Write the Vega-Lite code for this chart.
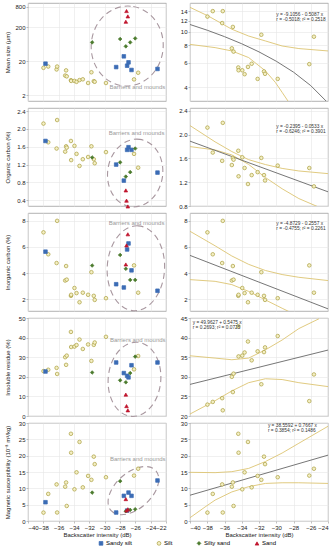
{
"$schema":"https://vega.github.io/schema/vega-lite/v6.json",
"padding":{"left":3,"top":2,"right":1,"bottom":2},
"bounds":"flush",
"columns":2,
"spacing":{"row":7,"column":24},
"datasets":{
"samples":[
{"type":"Silt","bs":-37.98,"ms":12.8,"oc":2.12,"ic":7.12,"ir":22.9,"mag":2.57},
{"type":"Silt","bs":-37.36,"ms":14.0,"oc":1.70,"ic":5.44,"ir":23.6,"mag":8.3},
{"type":"Silt","bs":-36.27,"ms":11.5,"oc":1.56,"ic":4.77,"ir":24.55,"mag":11.2},
{"type":"Silt","bs":-36.2,"ms":14.0,"oc":2.2,"ic":8.0,"ir":21.45,"mag":2.6},
{"type":"Silt","bs":-35.15,"ms":7.6,"oc":1.49,"ic":3.43,"ir":30.0,"mag":10.5},
{"type":"Silt","bs":-35.03,"ms":10.8,"oc":1.61,"ic":4.54,"ir":26.1,"mag":11.8},
{"type":"Silt","bs":-34.95,"ms":7.2,"oc":1.58,"ic":3.5,"ir":30.8,"mag":4.6},
{"type":"Silt","bs":-34.4,"ms":5.55,"oc":1.73,"ic":2.26,"ir":42.9,"mag":26.7},
{"type":"Silt","bs":-34.37,"ms":5.3,"oc":1.30,"ic":2.34,"ir":35.2,"mag":20.9},
{"type":"Silt","bs":-33.94,"ms":5.3,"oc":1.62,"ic":2.86,"ir":35.4,"mag":9.7},
{"type":"Silt","bs":-33.67,"ms":4.97,"oc":1.44,"ic":2.47,"ir":36.2,"mag":14.9},
{"type":"Silt","bs":-33.28,"ms":5.6,"oc":1.17,"ic":1.77,"ir":39.0,"mag":24.2},
{"type":"Silt","bs":-32.85,"ms":5.9,"oc":1.32,"ic":2.5,"ir":34.2,"mag":10.3},
{"type":"Silt","bs":-32.16,"ms":4.6,"oc":1.37,"ic":2.34,"ir":36.5,"mag":13.8},
{"type":"Silt","bs":-31.73,"ms":9.5,"oc":1.61,"ic":4.07,"ir":28.1,"mag":12.6},
{"type":"Silt","bs":-31.42,"ms":5.2,"oc":1.32,"ic":2.26,"ir":36.3,"mag":19.7},
{"type":"Silt","bs":-31.3,"ms":5.0,"oc":1.23,"ic":1.95,"ir":37.5,"mag":17.4},
{"type":"Silt","bs":-29.83,"ms":4.6,"oc":1.48,"ic":2.08,"ir":40.4,"mag":13.4},
{"type":"Silt","bs":-26.17,"ms":5.86,"oc":1.44,"ic":4.59,"ir":23.8,"mag":13.9},
{"type":"Silt","bs":-25.63,"ms":9.2,"oc":1.13,"ic":2.5,"ir":30.6,"mag":16.0},
{"type":"Sandy silt","bs":-37.72,"ms":17.0,"oc":1.73,"ic":5.64,"ir":22.7,"mag":5.75},
{"type":"Sandy silt","bs":-28.5,"ms":13.5,"oc":1.20,"ic":3.15,"ir":27.3,"mag":2.6},
{"type":"Sandy silt","bs":-27.5,"ms":27.9,"oc":0.84,"ic":2.90,"ir":21.9,"mag":7.7},
{"type":"Sandy silt","bs":-27.07,"ms":14.8,"oc":1.53,"ic":5.81,"ir":20.5,"mag":3.2},
{"type":"Sandy silt","bs":-26.89,"ms":18.6,"oc":1.59,"ic":6.27,"ir":19.7,"mag":8.7},
{"type":"Sandy silt","bs":-26.5,"ms":11.1,"oc":1.53,"ic":4.21,"ir":25.9,"mag":7.7},
{"type":"Sandy silt","bs":-23.11,"ms":11.9,"oc":1.02,"ic":2.65,"ir":27.3,"mag":12.4},
{"type":"Silty sand","bs":-31.63,"ms":71.8,"oc":1.36,"ic":4.58,"ir":22.2,"mag":8.7},
{"type":"Silty sand","bs":-27.98,"ms":90,"oc":1.25,"ic":5.39,"ir":18.2,"mag":12.2},
{"type":"Silty sand","bs":-27.24,"ms":54.8,"oc":0.93,"ic":4.33,"ir":17.2,"mag":3.0},
{"type":"Silty sand","bs":-26.67,"ms":71.8,"oc":1.03,"ic":3.48,"ir":21.9,"mag":3.4},
{"type":"Silty sand","bs":-26.02,"ms":94,"oc":1.56,"ic":3.48,"ir":30.3,"mag":3.6},
{"type":"Sand","bs":-27.24,"ms":290,"oc":0.62,"ic":4.66,"ir":10.9,"mag":6.7},
{"type":"Sand","bs":-27.15,"ms":597,"oc":0.39,"ic":6.12,"ir":5.05,"mag":3.2},
{"type":"Sand","bs":-26.98,"ms":416,"oc":0.26,"ic":6.97,"ir":2.9,"mag":3.6}
],
"annot":[
{"kind":"ellipse","bs":-27.06,"ms":56},
{"kind":"ellipse","bs":-26.02,"oc":1.01},
{"kind":"ellipse","bs":-25.93,"ic":4.37},
{"kind":"ellipse","bs":-26.11,"ir":18.7},
{"kind":"ellipse","bs":-26.25,"mag":9.3},
{"kind":"note","bs":-22.1,"ms":3.5,"label":"Barriers and mounds"},
{"kind":"note","bs":-22.2,"oc":1.92,"label":"Barriers and mounds"},
{"kind":"note","bs":-22.2,"ic":7.86,"label":"Barriers and mounds"},
{"kind":"note","bs":-22.05,"ir":38.8,"label":"Barriers and mounds"},
{"kind":"note","bs":-22.05,"mag":18.9,"label":"Barriers and mounds"},
{"kind":"eq","bs":-30.0,"ms":13.9,"label":"y = -9.1056 - 0.5087 x\nr = -0.5018; r² = 0.2518"},
{"kind":"eq","bs":-30.0,"oc":2.18,"label":"y = -0.2395 - 0.0533 x\nr = -0.6246; r² = 0.3901"},
{"kind":"eq","bs":-30.0,"ic":7.95,"label":"y = -4.8729 - 0.2557 x\nr = -0.4755; r² = 0.2261"},
{"kind":"eq","bs":-39.69,"ir":44.6,"label":"y = 49.9627 + 0.5475 x\nr = 0.2693; r² = 0.0725"},
{"kind":"eq","bs":-30.97,"mag":29.85,"label":"y = 38.5592 + 0.7667 x\nr = 0.3854; r² = 0.1486"}
],
"curves":[
{"curve":"fit","bs":-40,"ms":11.24},{"curve":"fit","bs":-38,"ms":10.23},{"curve":"fit","bs":-36,"ms":9.21},{"curve":"fit","bs":-34,"ms":8.19},{"curve":"fit","bs":-32,"ms":7.17},{"curve":"fit","bs":-30,"ms":6.15},{"curve":"fit","bs":-28,"ms":5.14},{"curve":"fit","bs":-26,"ms":4.12},{"curve":"fit","bs":-24,"ms":3.10},
{"curve":"upper","bs":-40,"ms":14.9},{"curve":"upper","bs":-37.86,"ms":12.9},{"curve":"upper","bs":-35.15,"ms":10.4},{"curve":"upper","bs":-33.2,"ms":9.3},{"curve":"upper","bs":-31.26,"ms":8.58},{"curve":"upper","bs":-29.32,"ms":7.9},{"curve":"upper","bs":-27.38,"ms":7.57},{"curve":"upper","bs":-24,"ms":7.28},
{"curve":"lower","bs":-40,"ms":8.11},{"curve":"lower","bs":-37.09,"ms":7.69},{"curve":"lower","bs":-35.15,"ms":7.28},{"curve":"lower","bs":-33.2,"ms":6.53},{"curve":"lower","bs":-31.26,"ms":5.25},{"curve":"lower","bs":-30.1,"ms":4.34},{"curve":"lower","bs":-29.32,"ms":3.69},{"curve":"lower","bs":-28.54,"ms":3.13},
{"curve":"fit","bs":-40,"oc":1.892},{"curve":"fit","bs":-24,"oc":1.039},
{"curve":"upper","bs":-40,"oc":2.154},{"curve":"upper","bs":-37.09,"oc":1.88},{"curve":"upper","bs":-35.15,"oc":1.717},{"curve":"upper","bs":-33.2,"oc":1.58},{"curve":"upper","bs":-31.26,"oc":1.498},{"curve":"upper","bs":-29.32,"oc":1.433},{"curve":"upper","bs":-27.38,"oc":1.39},{"curve":"upper","bs":-24,"oc":1.345},
{"curve":"lower","bs":-40,"oc":1.80},{"curve":"lower","bs":-37.09,"oc":1.744},{"curve":"lower","bs":-35.15,"oc":1.66},{"curve":"lower","bs":-33.2,"oc":1.50},{"curve":"lower","bs":-31.26,"oc":1.28},{"curve":"lower","bs":-29.32,"oc":1.09},{"curve":"lower","bs":-27.38,"oc":0.925},{"curve":"lower","bs":-25.0,"oc":0.777},
{"curve":"fit","bs":-40,"ic":5.355},{"curve":"fit","bs":-24,"ic":1.264},
{"curve":"upper","bs":-40,"ic":7.2},{"curve":"upper","bs":-37.09,"ic":6.09},{"curve":"upper","bs":-35.15,"ic":5.31},{"curve":"upper","bs":-33.2,"ic":4.67},{"curve":"upper","bs":-31.26,"ic":4.2},{"curve":"upper","bs":-29.32,"ic":3.89},{"curve":"upper","bs":-27.38,"ic":3.68},{"curve":"upper","bs":-24,"ic":3.43},
{"curve":"lower","bs":-40,"ic":3.5},{"curve":"lower","bs":-37.09,"ic":3.37},{"curve":"lower","bs":-35.15,"ic":3.12},{"curve":"lower","bs":-33.2,"ic":2.6},{"curve":"lower","bs":-31.26,"ic":1.95},{"curve":"lower","bs":-29.32,"ic":1.31},{"curve":"lower","bs":-28.35,"ic":1.0},
{"curve":"fit","bs":-40,"ir":28.06},{"curve":"fit","bs":-24,"ir":36.82},
{"curve":"upper","bs":-40,"ir":35.36},{"curve":"upper","bs":-37.09,"ir":34.77},{"curve":"upper","bs":-35.15,"ir":34.35},{"curve":"upper","bs":-33.2,"ir":34.77},{"curve":"upper","bs":-31.26,"ir":36.87},{"curve":"upper","bs":-29.32,"ir":39.38},{"curve":"upper","bs":-27.38,"ir":42.3},{"curve":"upper","bs":-25.05,"ir":44.8},
{"curve":"lower","bs":-40,"ir":20.5},{"curve":"lower","bs":-37.09,"ir":23.9},{"curve":"lower","bs":-35.15,"ir":26.4},{"curve":"lower","bs":-33.2,"ir":28.5},{"curve":"lower","bs":-31.26,"ir":29.5},{"curve":"lower","bs":-29.32,"ir":29.3},{"curve":"lower","bs":-27.38,"ir":28.5},{"curve":"lower","bs":-24,"ir":27.5},
{"curve":"fit","bs":-40,"mag":7.89},{"curve":"fit","bs":-24,"mag":20.16},
{"curve":"upper","bs":-40,"mag":14.9},{"curve":"upper","bs":-37.09,"mag":14.8},{"curve":"upper","bs":-35.15,"mag":15.1},{"curve":"upper","bs":-33.2,"mag":16.1},{"curve":"upper","bs":-31.26,"mag":18.2},{"curve":"upper","bs":-29.32,"mag":20.8},{"curve":"upper","bs":-27.38,"mag":23.8},{"curve":"upper","bs":-24,"mag":29.0},
{"curve":"lower","bs":-40,"mag":1.0},{"curve":"lower","bs":-38.25,"mag":4.3},{"curve":"lower","bs":-37.09,"mag":6.4},{"curve":"lower","bs":-35.15,"mag":8.9},{"curve":"lower","bs":-33.2,"mag":10.5},{"curve":"lower","bs":-31.26,"mag":11.5},{"curve":"lower","bs":-29.32,"mag":11.7},{"curve":"lower","bs":-27.38,"mag":11.7},{"curve":"lower","bs":-24,"mag":11.5}
]
},
"concat":[
{"width":138,"height":98,
 "encoding":{
  "x":{"field":"bs","type":"quantitative","scale":{"domain":[-40,-22],"nice":false,"zero":false},"axis":{"labels":false,"ticks":false,"title":null,"values":[-40,-38,-36,-34,-32,-30,-28,-26,-24,-22]}},
  "y":{"field":"ms","type":"quantitative","scale":{"type":"log","domain":[1.36,1030],"nice":false},"axis":{"title":"Mean size (μm)","values":[2,20,200,800],"format":"d","titleX":-21,"titleY":49,"titleBaseline":"middle"}}},
 "layer":[
  {"data":{"name":"annot"},"transform":[{"filter":"datum.kind=='ellipse' && isValid(datum.ms)"}],"mark":{"type":"point","shape":"M -1 0 A 1 0.9 0 1 0 1 0 A 1 0.9 0 1 0 -1 0 Z","size":6400,"angle":95,"filled":false,"stroke":"#a8979f","strokeWidth":1.1,"strokeDash":[6,4],"opacity":1}},
  {"data":{"name":"annot"},"transform":[{"filter":"datum.kind=='note' && isValid(datum.ms)"}],"mark":{"type":"text","align":"right","baseline":"middle","fontSize":6,"color":"#9a9a9a"},"encoding":{"text":{"field":"label"}}},
  {"data":{"name":"samples"},"mark":{"type":"point","filled":true,"size":13,"strokeWidth":0.7,"opacity":1},
   "encoding":{
    "shape":{"field":"type","type":"nominal","title":null,"scale":{"domain":["Sandy silt","Silt","Silty sand","Sand"],"range":["square","circle","diamond","triangle-up"]}},
    "fill":{"field":"type","type":"nominal","title":null,"scale":{"domain":["Sandy silt","Silt","Silty sand","Sand"],"range":["#3b6cb5","#f4efc4","#4a7a2c","#c0142c"]}},
    "stroke":{"field":"type","type":"nominal","title":null,"scale":{"domain":["Sandy silt","Silt","Silty sand","Sand"],"range":["#3b6cb5","#a99d3e","#4a7a2c","#c0142c"]}}}}
 ]},
{"width":138,"height":98,
 "encoding":{
  "x":{"field":"bs","type":"quantitative","scale":{"domain":[-40,-24],"nice":false,"zero":false},"axis":{"labels":false,"ticks":false,"title":null,"values":[-40,-38,-36,-34,-32,-30,-28,-26,-24]}},
  "y":{"field":"ms","type":"quantitative","scale":{"type":"log","domain":[3.2,16],"nice":false},"axis":{"title":null,"values":[4,6,8,10,12,14],"format":"d"}}},
 "layer":[
  {"data":{"name":"curves"},"transform":[{"filter":"datum.curve!='fit' && isValid(datum.ms)"}],"mark":{"type":"line","stroke":"#dcc472","strokeWidth":0.9,"clip":true},"encoding":{"detail":{"field":"curve"}}},
  {"data":{"name":"curves"},"transform":[{"filter":"datum.curve=='fit' && isValid(datum.ms)"}],"mark":{"type":"line","stroke":"#666666","strokeWidth":0.9,"clip":true},"encoding":{}},
  {"data":{"name":"samples"},"transform":[{"filter":"datum.type=='Silt'"}],"mark":{"type":"point","shape":"circle","filled":true,"fill":"#f4efc4","stroke":"#a99d3e","strokeWidth":0.7,"size":13,"opacity":1}},
  {"data":{"name":"annot"},"transform":[{"filter":"datum.kind=='eq' && isValid(datum.ms)"}],"mark":{"type":"text","align":"left","baseline":"top","fontSize":4.8,"lineBreak":"\n","lineHeight":5,"color":"#333"},"encoding":{"text":{"field":"label"}}}
 ]},
{"width":138,"height":98,
 "encoding":{
  "x":{"field":"bs","type":"quantitative","scale":{"domain":[-40,-22],"nice":false,"zero":false},"axis":{"labels":false,"ticks":false,"title":null,"values":[-40,-38,-36,-34,-32,-30,-28,-26,-24,-22]}},
  "y":{"field":"oc","type":"quantitative","scale":{"domain":[0.27,2.47],"nice":false,"zero":false},"axis":{"title":"Organic carbon (%)","values":[0.4,0.8,1.2,1.6,2.0,2.4],"format":".1f","titleX":-21,"titleY":49,"titleBaseline":"middle"}}},
 "layer":[
  {"data":{"name":"annot"},"transform":[{"filter":"datum.kind=='ellipse' && isValid(datum.oc)"}],"mark":{"type":"point","shape":"M -1 0 A 1 0.81 0 1 0 1 0 A 1 0.81 0 1 0 -1 0 Z","size":4624,"angle":98,"filled":false,"stroke":"#a8979f","strokeWidth":1.1,"strokeDash":[6,4],"opacity":1}},
  {"data":{"name":"annot"},"transform":[{"filter":"datum.kind=='note' && isValid(datum.oc)"}],"mark":{"type":"text","align":"right","baseline":"middle","fontSize":6,"color":"#9a9a9a"},"encoding":{"text":{"field":"label"}}},
  {"data":{"name":"samples"},"mark":{"type":"point","filled":true,"size":13,"strokeWidth":0.7,"opacity":1},
   "encoding":{
    "shape":{"field":"type","type":"nominal","title":null,"scale":{"domain":["Sandy silt","Silt","Silty sand","Sand"],"range":["square","circle","diamond","triangle-up"]}},
    "fill":{"field":"type","type":"nominal","title":null,"scale":{"domain":["Sandy silt","Silt","Silty sand","Sand"],"range":["#3b6cb5","#f4efc4","#4a7a2c","#c0142c"]}},
    "stroke":{"field":"type","type":"nominal","title":null,"scale":{"domain":["Sandy silt","Silt","Silty sand","Sand"],"range":["#3b6cb5","#a99d3e","#4a7a2c","#c0142c"]}}}}
 ]},
{"width":138,"height":98,
 "encoding":{
  "x":{"field":"bs","type":"quantitative","scale":{"domain":[-40,-24],"nice":false,"zero":false},"axis":{"labels":false,"ticks":false,"title":null,"values":[-40,-38,-36,-34,-32,-30,-28,-26,-24]}},
  "y":{"field":"oc","type":"quantitative","scale":{"domain":[0.8,2.45],"nice":false,"zero":false},"axis":{"title":null,"values":[0.8,1.2,1.6,2.0,2.4],"format":".1f"}}},
 "layer":[
  {"data":{"name":"curves"},"transform":[{"filter":"datum.curve!='fit' && isValid(datum.oc)"}],"mark":{"type":"line","stroke":"#dcc472","strokeWidth":0.9,"clip":true},"encoding":{"detail":{"field":"curve"}}},
  {"data":{"name":"curves"},"transform":[{"filter":"datum.curve=='fit' && isValid(datum.oc)"}],"mark":{"type":"line","stroke":"#666666","strokeWidth":0.9,"clip":true},"encoding":{}},
  {"data":{"name":"samples"},"transform":[{"filter":"datum.type=='Silt'"}],"mark":{"type":"point","shape":"circle","filled":true,"fill":"#f4efc4","stroke":"#a99d3e","strokeWidth":0.7,"size":13,"opacity":1}},
  {"data":{"name":"annot"},"transform":[{"filter":"datum.kind=='eq' && isValid(datum.oc)"}],"mark":{"type":"text","align":"left","baseline":"top","fontSize":4.8,"lineBreak":"\n","lineHeight":5,"color":"#333"},"encoding":{"text":{"field":"label"}}}
 ]},
{"width":138,"height":98,
 "encoding":{
  "x":{"field":"bs","type":"quantitative","scale":{"domain":[-40,-22],"nice":false,"zero":false},"axis":{"labels":false,"ticks":false,"title":null,"values":[-40,-38,-36,-34,-32,-30,-28,-26,-24,-22]}},
  "y":{"field":"ic","type":"quantitative","scale":{"domain":[1.1,8.6],"nice":false,"zero":false},"axis":{"title":"Inorganic carbon (%)","values":[2,4,6,8],"format":"d","titleX":-21,"titleY":49,"titleBaseline":"middle"}}},
 "layer":[
  {"data":{"name":"annot"},"transform":[{"filter":"datum.kind=='ellipse' && isValid(datum.ic)"}],"mark":{"type":"point","shape":"M -1 0 A 1 0.675 0 1 0 1 0 A 1 0.675 0 1 0 -1 0 Z","size":7225,"angle":93,"filled":false,"stroke":"#a8979f","strokeWidth":1.1,"strokeDash":[6,4],"opacity":1}},
  {"data":{"name":"annot"},"transform":[{"filter":"datum.kind=='note' && isValid(datum.ic)"}],"mark":{"type":"text","align":"right","baseline":"middle","fontSize":6,"color":"#9a9a9a"},"encoding":{"text":{"field":"label"}}},
  {"data":{"name":"samples"},"mark":{"type":"point","filled":true,"size":13,"strokeWidth":0.7,"opacity":1},
   "encoding":{
    "shape":{"field":"type","type":"nominal","title":null,"scale":{"domain":["Sandy silt","Silt","Silty sand","Sand"],"range":["square","circle","diamond","triangle-up"]}},
    "fill":{"field":"type","type":"nominal","title":null,"scale":{"domain":["Sandy silt","Silt","Silty sand","Sand"],"range":["#3b6cb5","#f4efc4","#4a7a2c","#c0142c"]}},
    "stroke":{"field":"type","type":"nominal","title":null,"scale":{"domain":["Sandy silt","Silt","Silty sand","Sand"],"range":["#3b6cb5","#a99d3e","#4a7a2c","#c0142c"]}}}}
 ]},
{"width":138,"height":98,
 "encoding":{
  "x":{"field":"bs","type":"quantitative","scale":{"domain":[-40,-24],"nice":false,"zero":false},"axis":{"labels":false,"ticks":false,"title":null,"values":[-40,-38,-36,-34,-32,-30,-28,-26,-24]}},
  "y":{"field":"ic","type":"quantitative","scale":{"domain":[1.1,8.6],"nice":false,"zero":false},"axis":{"title":null,"values":[2,4,6,8],"format":"d"}}},
 "layer":[
  {"data":{"name":"curves"},"transform":[{"filter":"datum.curve!='fit' && isValid(datum.ic)"}],"mark":{"type":"line","stroke":"#dcc472","strokeWidth":0.9,"clip":true},"encoding":{"detail":{"field":"curve"}}},
  {"data":{"name":"curves"},"transform":[{"filter":"datum.curve=='fit' && isValid(datum.ic)"}],"mark":{"type":"line","stroke":"#666666","strokeWidth":0.9,"clip":true},"encoding":{}},
  {"data":{"name":"samples"},"transform":[{"filter":"datum.type=='Silt'"}],"mark":{"type":"point","shape":"circle","filled":true,"fill":"#f4efc4","stroke":"#a99d3e","strokeWidth":0.7,"size":13,"opacity":1}},
  {"data":{"name":"annot"},"transform":[{"filter":"datum.kind=='eq' && isValid(datum.ic)"}],"mark":{"type":"text","align":"left","baseline":"top","fontSize":4.8,"lineBreak":"\n","lineHeight":5,"color":"#333"},"encoding":{"text":{"field":"label"}}}
 ]},
{"width":138,"height":98,
 "encoding":{
  "x":{"field":"bs","type":"quantitative","scale":{"domain":[-40,-22],"nice":false,"zero":false},"axis":{"labels":false,"ticks":false,"title":null,"values":[-40,-38,-36,-34,-32,-30,-28,-26,-24,-22]}},
  "y":{"field":"ir","type":"quantitative","scale":{"domain":[0,50],"nice":false,"zero":false},"axis":{"title":"Insoluble residue (%)","values":[0,10,20,30,40,50],"format":"d","titleX":-21,"titleY":49,"titleBaseline":"middle"}}},
 "layer":[
  {"data":{"name":"annot"},"transform":[{"filter":"datum.kind=='ellipse' && isValid(datum.ir)"}],"mark":{"type":"point","shape":"M -1 0 A 1 0.707 0 1 0 1 0 A 1 0.707 0 1 0 -1 0 Z","size":5535,"angle":95,"filled":false,"stroke":"#a8979f","strokeWidth":1.1,"strokeDash":[6,4],"opacity":1}},
  {"data":{"name":"annot"},"transform":[{"filter":"datum.kind=='note' && isValid(datum.ir)"}],"mark":{"type":"text","align":"right","baseline":"middle","fontSize":6,"color":"#9a9a9a"},"encoding":{"text":{"field":"label"}}},
  {"data":{"name":"samples"},"mark":{"type":"point","filled":true,"size":13,"strokeWidth":0.7,"opacity":1},
   "encoding":{
    "shape":{"field":"type","type":"nominal","title":null,"scale":{"domain":["Sandy silt","Silt","Silty sand","Sand"],"range":["square","circle","diamond","triangle-up"]}},
    "fill":{"field":"type","type":"nominal","title":null,"scale":{"domain":["Sandy silt","Silt","Silty sand","Sand"],"range":["#3b6cb5","#f4efc4","#4a7a2c","#c0142c"]}},
    "stroke":{"field":"type","type":"nominal","title":null,"scale":{"domain":["Sandy silt","Silt","Silty sand","Sand"],"range":["#3b6cb5","#a99d3e","#4a7a2c","#c0142c"]}}}}
 ]},
{"width":138,"height":98,
 "encoding":{
  "x":{"field":"bs","type":"quantitative","scale":{"domain":[-40,-24],"nice":false,"zero":false},"axis":{"labels":false,"ticks":false,"title":null,"values":[-40,-38,-36,-34,-32,-30,-28,-26,-24]}},
  "y":{"field":"ir","type":"quantitative","scale":{"domain":[20,45],"nice":false,"zero":false},"axis":{"title":null,"values":[20,25,30,35,40,45],"format":"d"}}},
 "layer":[
  {"data":{"name":"curves"},"transform":[{"filter":"datum.curve!='fit' && isValid(datum.ir)"}],"mark":{"type":"line","stroke":"#dcc472","strokeWidth":0.9,"clip":true},"encoding":{"detail":{"field":"curve"}}},
  {"data":{"name":"curves"},"transform":[{"filter":"datum.curve=='fit' && isValid(datum.ir)"}],"mark":{"type":"line","stroke":"#666666","strokeWidth":0.9,"clip":true},"encoding":{}},
  {"data":{"name":"samples"},"transform":[{"filter":"datum.type=='Silt'"}],"mark":{"type":"point","shape":"circle","filled":true,"fill":"#f4efc4","stroke":"#a99d3e","strokeWidth":0.7,"size":13,"opacity":1}},
  {"data":{"name":"annot"},"transform":[{"filter":"datum.kind=='eq' && isValid(datum.ir)"}],"mark":{"type":"text","align":"left","baseline":"top","fontSize":4.8,"lineBreak":"\n","lineHeight":5,"color":"#333"},"encoding":{"text":{"field":"label"}}}
 ]},
{"width":138,"height":98,
 "encoding":{
  "x":{"field":"bs","type":"quantitative","scale":{"domain":[-40,-22],"nice":false,"zero":false},"axis":{"title":"Backscatter intensity (dB)","values":[-40,-38,-36,-34,-32,-30,-28,-26,-24,-22]}},
  "y":{"field":"mag","type":"quantitative","scale":{"domain":[0,30],"nice":false,"zero":false},"axis":{"title":"Magnetic susceptibility (10⁻⁸ m³/kg)","values":[0,5,10,15,20,25,30],"format":"d","titleX":-21,"titleY":49,"titleBaseline":"middle"}}},
 "layer":[
  {"data":{"name":"annot"},"transform":[{"filter":"datum.kind=='ellipse' && isValid(datum.mag)"}],"mark":{"type":"point","shape":"M -1 0 A 1 0.6 0 1 0 1 0 A 1 0.6 0 1 0 -1 0 Z","size":3600,"angle":-42,"filled":false,"stroke":"#a8979f","strokeWidth":1.1,"strokeDash":[6,4],"opacity":1}},
  {"data":{"name":"annot"},"transform":[{"filter":"datum.kind=='note' && isValid(datum.mag)"}],"mark":{"type":"text","align":"right","baseline":"middle","fontSize":6,"color":"#9a9a9a"},"encoding":{"text":{"field":"label"}}},
  {"data":{"name":"samples"},"mark":{"type":"point","filled":true,"size":13,"strokeWidth":0.7,"opacity":1},
   "encoding":{
    "shape":{"field":"type","type":"nominal","title":null,"scale":{"domain":["Sandy silt","Silt","Silty sand","Sand"],"range":["square","circle","diamond","triangle-up"]}},
    "fill":{"field":"type","type":"nominal","title":null,"scale":{"domain":["Sandy silt","Silt","Silty sand","Sand"],"range":["#3b6cb5","#f4efc4","#4a7a2c","#c0142c"]}},
    "stroke":{"field":"type","type":"nominal","title":null,"scale":{"domain":["Sandy silt","Silt","Silty sand","Sand"],"range":["#3b6cb5","#a99d3e","#4a7a2c","#c0142c"]}}}}
 ]},
{"width":138,"height":98,
 "encoding":{
  "x":{"field":"bs","type":"quantitative","scale":{"domain":[-40,-24],"nice":false,"zero":false},"axis":{"title":"Backscatter intensity (dB)","values":[-40,-38,-36,-34,-32,-30,-28,-26,-24]}},
  "y":{"field":"mag","type":"quantitative","scale":{"domain":[0,30],"nice":false,"zero":false},"axis":{"title":null,"values":[0,5,10,15,20,25,30],"format":"d"}}},
 "layer":[
  {"data":{"name":"curves"},"transform":[{"filter":"datum.curve!='fit' && isValid(datum.mag)"}],"mark":{"type":"line","stroke":"#dcc472","strokeWidth":0.9,"clip":true},"encoding":{"detail":{"field":"curve"}}},
  {"data":{"name":"curves"},"transform":[{"filter":"datum.curve=='fit' && isValid(datum.mag)"}],"mark":{"type":"line","stroke":"#666666","strokeWidth":0.9,"clip":true},"encoding":{}},
  {"data":{"name":"samples"},"transform":[{"filter":"datum.type=='Silt'"}],"mark":{"type":"point","shape":"circle","filled":true,"fill":"#f4efc4","stroke":"#a99d3e","strokeWidth":0.7,"size":13,"opacity":1}},
  {"data":{"name":"annot"},"transform":[{"filter":"datum.kind=='eq' && isValid(datum.mag)"}],"mark":{"type":"text","align":"left","baseline":"top","fontSize":4.8,"lineBreak":"\n","lineHeight":5,"color":"#333"},"encoding":{"text":{"field":"label"}}}
 ]}
],
"config":{
 "font":"Liberation Sans",
 "view":{"stroke":"#a0a0a0","strokeWidth":0.8},
 "axis":{"labelFontSize":6,"titleFontSize":6,"titleFontWeight":"normal","labelColor":"#222","titleColor":"#222","gridColor":"#e6e6e6","gridWidth":0.6,"tickColor":"#999","tickSize":2,"tickWidth":0.6,"domain":false,"labelPadding":1,"titlePadding":1},
 "legend":{"orient":"none","legendX":70,"legendY":537,"direction":"horizontal","labelFontSize":6,"symbolSize":14,"symbolStrokeWidth":0.7,"columnPadding":22,"labelOffset":2,"padding":0}
}
}
